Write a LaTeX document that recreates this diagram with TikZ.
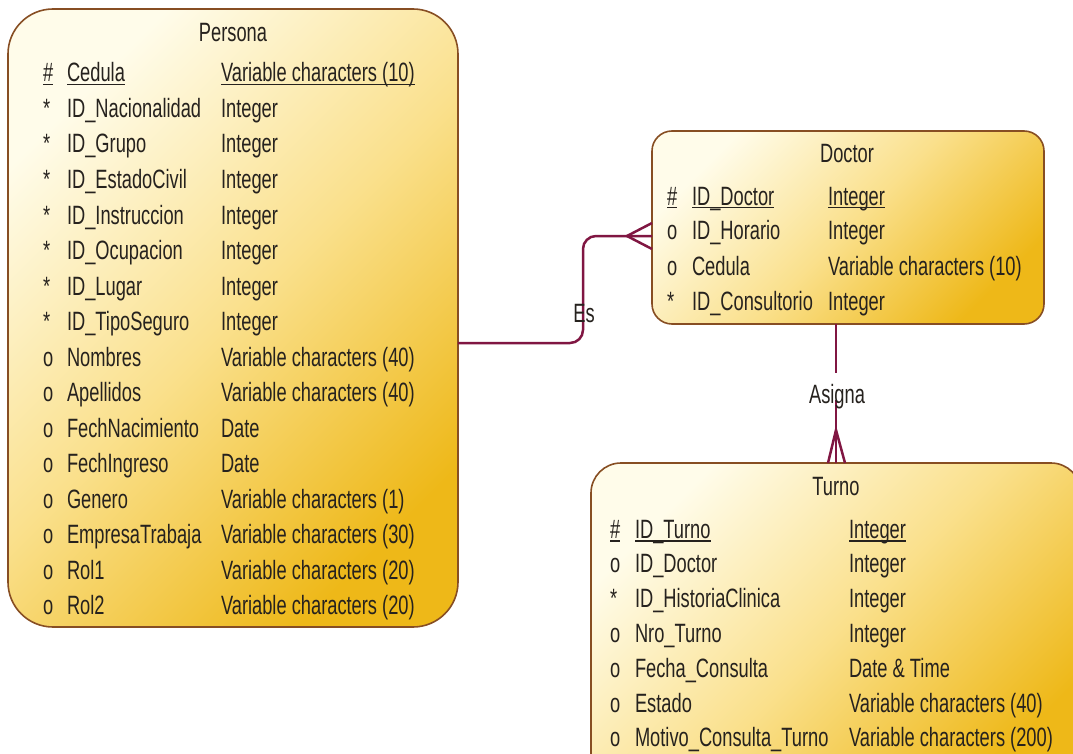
\documentclass[tikz,border=0pt]{standalone}
\usepackage{fontspec}
\setmainfont{Liberation Sans}[FakeStretch=0.69]
\definecolor{boxline}{RGB}{135,78,35}
\definecolor{fillA}{RGB}{255,252,234}
\definecolor{fillB}{RGB}{250,224,140}
\definecolor{fillC}{RGB}{238,184,24}
\definecolor{relline}{RGB}{128,22,66}
\definecolor{txt}{RGB}{38,34,30}
% underlined text for primary-key rows
\newcommand\pkline[1]{\setbox0=\hbox{#1}\rlap{\rule[-3.5pt]{\wd0}{1.3pt}}\box0}
\begin{document}
\begin{tikzpicture}[x=1pt,y=-1pt,
  every node/.style={font=\fontsize{26.5}{30}\selectfont, text=txt, inner sep=0pt, outer sep=0pt},
  entity/.style={draw=boxline, line width=1.6pt, top color=fillA, bottom color=fillC,
    middle color=fillB, shading angle=45},
  cell/.style={anchor=base west},
  conn/.style={draw=relline, line width=2.5pt},
  lbl/.style={anchor=base}]
\useasboundingbox (0,0) rectangle (1073,754);
\clip (0,0) rectangle (1073,754);

% entity boxes
\node[entity, rounded corners=45pt, minimum width=450pt, minimum height=618pt] (persona) at (233,318) {};
\node[entity, rounded corners=20pt, minimum width=392pt, minimum height=193pt] (doctor) at (848,227.5) {};
\node[entity, rounded corners=30pt, minimum width=490pt, minimum height=337pt] (turno) at (836,631.5) {};

% relationship Persona -- Doctor
\draw[conn, rounded corners=13pt] ([yshift=-25pt]persona.east) -| ([xshift=-69pt,yshift=-8.5pt]doctor.west) -- ([yshift=-8.5pt]doctor.west);
\draw[conn] ([yshift=4.5pt]doctor.west) -- ([xshift=-25pt,yshift=-8.5pt]doctor.west) -- ([yshift=-21.5pt]doctor.west);
\node[lbl] (es) at (584,322) {Es};

% relationship Doctor -- Turno
\draw[conn] ([xshift=-12pt]doctor.south) -- ++(0,49);
\draw[conn] (turno.north) -- ++(0,-63);
\draw[conn] ([xshift=-8pt]turno.north) -- ([yshift=33pt]turno.north) -- ([xshift=9pt]turno.north);
\node[lbl] (asigna) at (837,403) {Asigna};

% Persona
\node[lbl] (persona-title) at (233,42) {Persona};
\node[cell] (p-s0) at (43,82) {\pkline{\#}};
\node[cell] (p-n0) at (67,82) {\pkline{Cedula}};
\node[cell] (p-t0) at (221,82) {\pkline{Variable characters (10)}};
\foreach \s/\n/\t [count=\i from 1] in {
  */ID\_Nacionalidad/Integer,
  */ID\_Grupo/Integer,
  */ID\_EstadoCivil/Integer,
  */ID\_Instruccion/Integer,
  */ID\_Ocupacion/Integer,
  */ID\_Lugar/Integer,
  */ID\_TipoSeguro/Integer,
  o/Nombres/{Variable characters (40)},
  o/Apellidos/{Variable characters (40)},
  o/FechNacimiento/Date,
  o/FechIngreso/Date,
  o/Genero/{Variable characters (1)},
  o/EmpresaTrabaja/{Variable characters (30)},
  o/Rol1/{Variable characters (20)},
  o/Rol2/{Variable characters (20)}} {
  \node[cell] (p-s\i) at (43,82+35.5*\i) {\s};
  \node[cell] (p-n\i) at (67,82+35.5*\i) {\n};
  \node[cell] (p-t\i) at (221,82+35.5*\i) {\t};
}

% Doctor
\node[lbl] (doctor-title) at (847,163) {Doctor};
\node[cell] (d-s0) at (667,205) {\pkline{\#}};
\node[cell] (d-n0) at (692,205) {\pkline{ID\_Doctor}};
\node[cell] (d-t0) at (828,205) {\pkline{Integer}};
\foreach \s/\n/\t [count=\i from 1] in {
  o/ID\_Horario/Integer,
  o/Cedula/{Variable characters (10)},
  */ID\_Consultorio/Integer} {
  \node[cell] (d-s\i) at (667,205+35*\i) {\s};
  \node[cell] (d-n\i) at (692,205+35*\i) {\n};
  \node[cell] (d-t\i) at (828,205+35*\i) {\t};
}

% Turno
\node[lbl] (turno-title) at (836,495) {Turno};
\node[cell] (t-s0) at (610,538) {\pkline{\#}};
\node[cell] (t-n0) at (635,538) {\pkline{ID\_Turno}};
\node[cell] (t-t0) at (849,538) {\pkline{Integer}};
\foreach \s/\n/\t [count=\i from 1] in {
  o/ID\_Doctor/Integer,
  */ID\_HistoriaClinica/Integer,
  o/Nro\_Turno/Integer,
  o/Fecha\_Consulta/{Date \& Time},
  o/Estado/{Variable characters (40)},
  o/Motivo\_Consulta\_Turno/{Variable characters (200)}} {
  \node[cell] (t-s\i) at (610,538+34.8*\i) {\s};
  \node[cell] (t-n\i) at (635,538+34.8*\i) {\n};
  \node[cell] (t-t\i) at (849,538+34.8*\i) {\t};
}
\end{tikzpicture}
\end{document}
